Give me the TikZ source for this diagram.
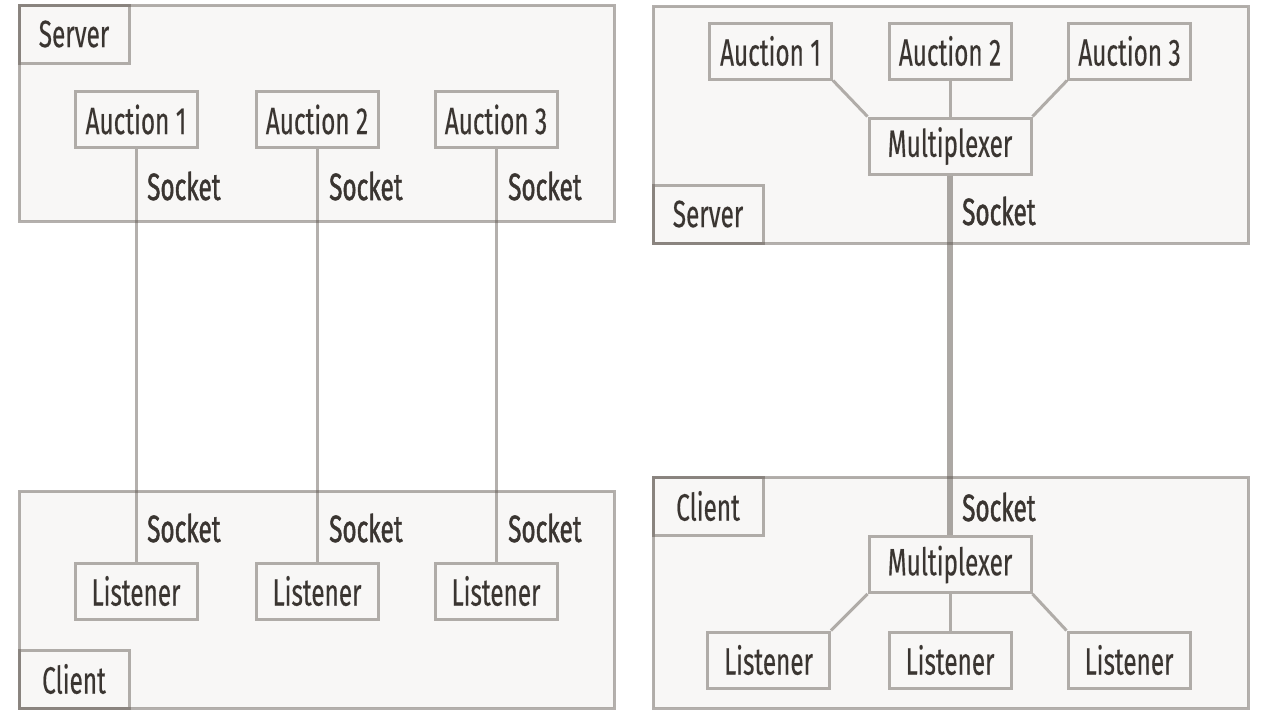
\documentclass[tikz,border=0pt]{standalone}
\usepackage{fontspec}
\setmainfont{Fira Sans}[FakeStretch=0.64, FakeBold=1.2]
\usepackage{tikz}
\usetikzlibrary{calc}
\usepackage{color}

\definecolor{boxfill}{HTML}{F8F7F6}
\definecolor{boxline}{HTML}{5A524B}
\definecolor{boxtext}{HTML}{3A3531}

\pgfdeclarelayer{panels}
\pgfdeclarelayer{wires}
\pgfsetlayers{panels,wires,main}

\begin{document}
\begin{tikzpicture}
      [x = 1pt, y = -1pt,
      every node/.style = {
         font = \fontsize{38}{42}\selectfont,
         text = boxtext
      },
      frame/.style = {
         draw = boxline,
         draw opacity = .45,
         fill = boxfill,
         line width = 3pt,
         rectangle,
         inner sep = 0pt
      },
      panel/.style = {
         frame,
         minimum width = 595pt
      },
      tag/.style = {
         frame,
         fill = none,
         minimum width = 110pt,
         minimum height = 58pt
      },
      unit/.style = {
         frame,
         minimum width = 122pt,
         minimum height = 56pt
      },
      mux/.style = {
         frame,
         minimum width = 162pt,
         minimum height = 56pt
      },
      wire/.style = {
         draw = boxline,
         draw opacity = .45,
         line width = 3pt
      },
      trunk/.style = {
         wire,
         draw opacity = .5,
         line width = 5.5pt
      },
      sock/.style = {
         anchor = west,
         inner sep = 0pt
      }]

      \begin{pgfonlayer}{panels}
      \useasboundingbox[fill = white] (0, 0) rectangle (1265, 713);
      \end{pgfonlayer}

      % one socket per auction
      \begin{pgfonlayer}{panels}
      \node[panel, minimum height = 216pt] (srvL) at (316.5, 113) {};
      \node[panel, minimum height = 217pt] (cliL) at (316.5, 599.5) {};
      \end{pgfonlayer}
      \node[tag, anchor = north west] (srvLtag) at (srvL.north west) {Server};
      \node[tag, anchor = south west] (cliLtag) at (cliL.south west) {Client};

      \node[unit] (aucL1) at (136, 119.5) {Auction 1};
      \node[unit] (aucL2) at (317, 119.5) {Auction 2};
      \node[unit] (aucL3) at (496, 119.5) {Auction 3};
      \node[unit] (lisL1) at (136, 591) {Listener};
      \node[unit] (lisL2) at (317, 591) {Listener};
      \node[unit] (lisL3) at (496, 591) {Listener};

      \begin{pgfonlayer}{wires}
      \draw[wire] (aucL1.south) -- (lisL1.north);
      \draw[wire] (aucL2.south) -- (lisL2.north);
      \draw[wire] (aucL3.south) -- (lisL3.north);
      \end{pgfonlayer}

      \node[sock] (sockL1) at (147, 186) {Socket};
      \node[sock] (sockL2) at (329, 186) {Socket};
      \node[sock] (sockL3) at (508, 186) {Socket};
      \node[sock] (sockL4) at (147, 528) {Socket};
      \node[sock] (sockL5) at (329, 528) {Socket};
      \node[sock] (sockL6) at (508, 528) {Socket};

      % one shared socket
      \begin{pgfonlayer}{panels}
      \node[panel, minimum height = 237pt] (srvR) at (950.5, 124.5) {};
      \node[panel, minimum height = 231pt] (cliR) at (950.5, 592.5) {};
      \end{pgfonlayer}
      \node[tag, anchor = south west] (srvRtag) at (srvR.south west) {Server};
      \node[tag, anchor = north west] (cliRtag) at (cliR.north west) {Client};

      \node[unit] (aucR1) at (770.5, 51) {Auction 1};
      \node[unit] (aucR2) at (950, 51) {Auction 2};
      \node[unit] (aucR3) at (1129.5, 51) {Auction 3};
      \node[mux] (muxS) at (950, 146) {Multiplexer};
      \node[mux] (muxC) at (950, 564.5) {Multiplexer};
      \node[unit] (lisR1) at (768.5, 660) {Listener};
      \node[unit] (lisR2) at (950, 660) {Listener};
      \node[unit] (lisR3) at (1129, 660) {Listener};

      \begin{pgfonlayer}{wires}
      \draw[wire] (aucR1.south east) -- (muxS.north west);
      \draw[wire] (aucR2.south) -- (muxS.north);
      \draw[wire] (aucR3.south west) -- (muxS.north east);
      \draw[trunk] (muxS.south) -- (muxC.north);
      \draw[wire] (muxC.south west) -- (lisR1.north east);
      \draw[wire] (muxC.south) -- (lisR2.north);
      \draw[wire] (muxC.south east) -- (lisR3.north west);
      \end{pgfonlayer}

      \node[sock] (sockR1) at (962, 211) {Socket};
      \node[sock] (sockR2) at (962, 507) {Socket};

   \end{tikzpicture}
\end{document}
